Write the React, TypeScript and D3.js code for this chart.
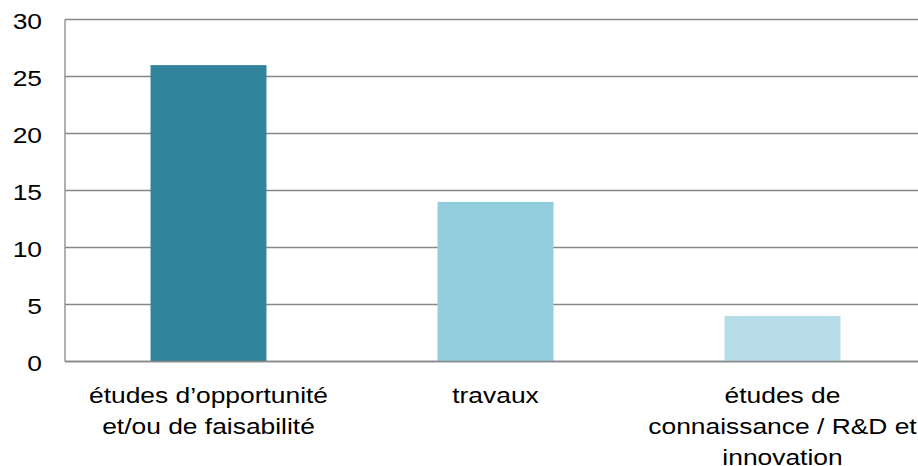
import React, { useEffect, useRef } from 'react';
import * as d3 from 'd3';

const categories = [
  ["études d’opportunité", "et/ou de faisabilité"],
  ["travaux"],
  ["études de", "connaissance / R&D et", "innovation"],
];
const values = [26, 14, 4];
const colors = ["#31849B", "#92CDDC", "#B7DEE8"];
const yTicks = [0, 5, 10, 15, 20, 25, 30];

const FONT = "'Liberation Sans', Arial, sans-serif";
// the reference text is a bit wider than it is tall
const STRETCH = 1.2;

const App = () => {
  const ref = useRef<SVGSVGElement>(null);

  useEffect(() => {
    const dims = { width: 918, height: 466 };
    // the plot area runs a little past the right edge of the picture
    const margin = { top: 19.5, right: -8, bottom: 104.5, left: 65 };
    const svg = d3.select(ref.current);
    svg.selectAll("*").remove();

    const ids = categories.map((_, i) => String(i));
    const x = d3
      .scaleBand()
      .domain(ids)
      .range([margin.left, dims.width - margin.right])
      .paddingInner(0.596)
      .paddingOuter(0.298);

    const y = d3
      .scaleLinear()
      .domain([0, 30])
      .range([dims.height - margin.bottom, margin.top]);

    // gridlines
    svg
      .selectAll(".grid")
      .data(yTicks)
      .enter()
      .append("line")
      .attr("class", "grid")
      .attr("x1", margin.left)
      .attr("x2", dims.width)
      .attr("y1", d => y(d))
      .attr("y2", d => y(d))
      .attr("stroke", "#878787")
      .attr("stroke-width", 1.3);

    // y axis line
    svg
      .append("line")
      .attr("x1", margin.left)
      .attr("x2", margin.left)
      .attr("y1", y(30))
      .attr("y2", y(0))
      .attr("stroke", "#878787")
      .attr("stroke-width", 1.3);

    // bars
    svg
      .selectAll(".bar")
      .data(values)
      .enter()
      .append("rect")
      .attr("class", "bar")
      .attr("x", (_, i) => x(ids[i]) as number)
      .attr("width", x.bandwidth())
      .attr("y", d => y(d))
      .attr("height", d => y(0) - y(d))
      .attr("fill", (_, i) => colors[i]);

    // redraw baseline on top of bars
    svg
      .append("line")
      .attr("x1", margin.left)
      .attr("x2", dims.width)
      .attr("y1", y(0))
      .attr("y2", y(0))
      .attr("stroke", "#878787")
      .attr("stroke-width", 1.3);

    // tick labels
    svg
      .selectAll(".ytick")
      .data(yTicks)
      .enter()
      .append("text")
      .attr("class", "ytick")
      .attr("transform", d => `translate(42,${y(d) + 9.5}) scale(${STRETCH},1)`)
      .attr("text-anchor", "end")
      .attr("font-family", FONT)
      .attr("font-size", 22)
      .attr("fill", "#000")
      .text(d => d);

    // category labels, one text per line
    categories.forEach((lines, i) => {
      const cx = (x(ids[i]) as number) + x.bandwidth() / 2;
      svg
        .selectAll(`.xlabel${i}`)
        .data(lines)
        .enter()
        .append("text")
        .attr("class", `xlabel${i}`)
        .attr("transform", (_, j) => `translate(${cx},${y(0) + 41.5 + j * 31}) scale(${STRETCH},1)`)
        .attr("text-anchor", "middle")
        .attr("font-family", FONT)
        .attr("font-size", 22)
        .attr("fill", "#000")
        .text(d => d);
    });
  }, []);

  return (
    <svg
      ref={ref}
      width={918}
      height={466}
      style={{ position: "absolute", left: 0, top: 0, background: "#fff" }}
    />
  );
};

export default App;
